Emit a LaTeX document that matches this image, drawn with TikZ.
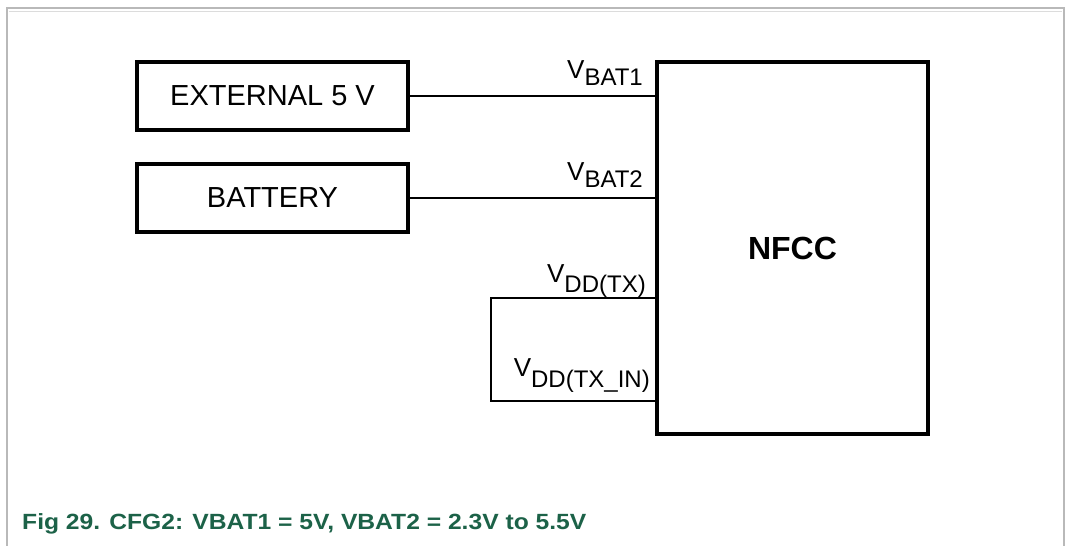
\documentclass[tikz,border=0pt]{standalone}
\usepackage{fontspec}
\setmainfont{Liberation Sans}
\definecolor{capgreen}{RGB}{28,98,72}
\definecolor{framegray}{RGB}{185,185,185}
\newcommand{\sig}[3]{{\fontsize{26}{26}\selectfont #1}\raisebox{#3pt}{\fontsize{24}{24}\selectfont #2}}
\begin{document}
\begin{tikzpicture}[x=1pt,y=-1pt,
  block/.style={draw=black,line width=4pt,inner sep=0pt,outer sep=0pt,
    font=\fontsize{29}{29}\selectfont,minimum width=271pt,minimum height=68pt},
  chip/.style={draw=black,line width=4pt,inner sep=0pt,outer sep=0pt,
    font=\fontsize{32}{32}\selectfont\bfseries,minimum width=271pt,minimum height=372pt},
  wire/.style={line width=2pt},
  pinlabel/.style={anchor=base east,inner sep=0pt},
  caption/.style={anchor=base west,inner sep=0pt,text=capgreen,
    font=\fontsize{22}{22}\selectfont\bfseries}]
\useasboundingbox (0,0) rectangle (1066,546);
\fill[white] (0,0) rectangle (1066,546);
% frame
\draw[framegray,line width=2pt] (7,546) -- (7,8) -- (1064,8) -- (1064,546);
\draw[framegray!50,line width=1pt] (9,11) -- (1062,11);
% blocks
\node[block] (ext) at (272.5,96) {EXTERNAL 5 V};
\node[block] (bat) at (272.5,198) {BATTERY};
\node[chip] (nfcc) at (792.5,248) {NFCC};
% connectors
\draw[wire] (ext.east) -- (ext.east -| nfcc.west);
\draw[wire] (bat.east) -- (bat.east -| nfcc.west);
\coordinate (tx) at (nfcc.west |- 0,298);
\coordinate (txin) at (nfcc.west |- 0,401);
\coordinate (lt) at (491,298);
\coordinate (lb) at (491,401);
\draw[wire] (tx) -- (lt) -- (lb) -- (txin);
% pin labels
\node[pinlabel] (l1) at (643,78) {\sig{V}{BAT1}{-7}};
\node[pinlabel] (l2) at (643,180) {\sig{V}{BAT2}{-7}};
\node[pinlabel] (l3) at (646,282) {\sig{V}{DD(TX)}{-10}};
\node[pinlabel] (l4) at (650,376) {\sig{V}{DD(TX\_IN)}{-11}};
% caption
\node[caption] (cap) at (22,529) {\scalebox{1.12}[1]{Fig 29. CFG2: VBAT1 = 5V, VBAT2 = 2.3V to 5.5V}};
\end{tikzpicture}
\end{document}
